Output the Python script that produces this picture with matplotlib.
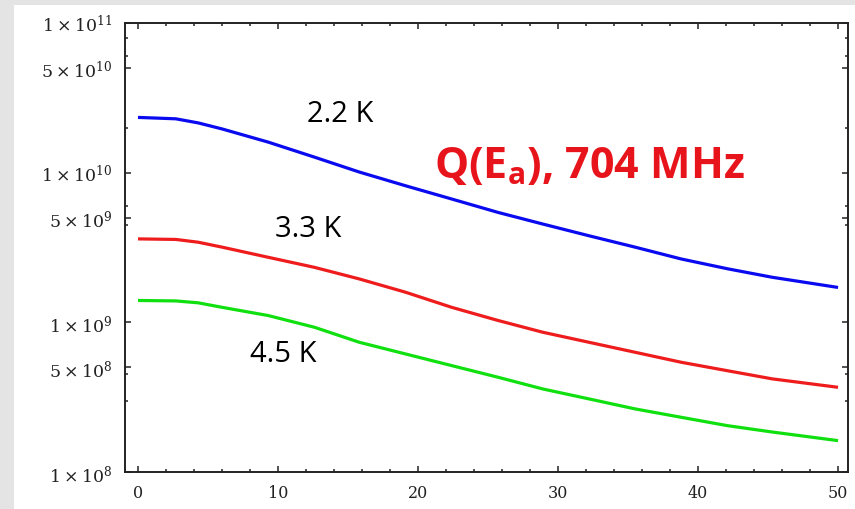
import numpy as np
import matplotlib
matplotlib.use("Agg")
import matplotlib.pyplot as plt
from matplotlib.patches import Rectangle
from matplotlib.ticker import FixedLocator, NullFormatter

# Accelerating field E_a (MV/m) sample points
field = [0, 2.7, 4.3, 6.0, 9.3, 12.6, 15.8, 19.1, 22.4, 25.7, 28.9, 32.2, 35.5, 38.8, 42.1, 45.3, 50]

# Q values in units of 1e9
q_22K = [23.4, 22.9, 21.5, 19.6, 16.0, 12.7, 10.1, 8.18, 6.67, 5.43, 4.54, 3.79, 3.18, 2.65, 2.28, 2.00, 1.71]
q_33K = [3.61, 3.58, 3.43, 3.18, 2.72, 2.33, 1.95, 1.59, 1.26, 1.03, 0.859, 0.736, 0.631, 0.541, 0.475, 0.419, 0.368]
q_45K = [1.40, 1.39, 1.35, 1.26, 1.11, 0.927, 0.736, 0.615, 0.514, 0.430, 0.359, 0.308, 0.264, 0.232, 0.204, 0.185, 0.162]

temps = ["2.2 K", "3.3 K", "4.5 K"]
colors = ["#0a0af0", "#ee1c1c", "#10e010"]

# y tick labels
ytick_vals = [1e8, 5e8, 1e9, 5e9, 1e10, 5e10, 1e11]
ytick_labels = [r"$\mathregular{1\times10^{8}}$", r"$\mathregular{5\times10^{8}}$",
                r"$\mathregular{1\times10^{9}}$", r"$\mathregular{5\times10^{9}}$",
                r"$\mathregular{1\times10^{10}}$", r"$\mathregular{5\times10^{10}}$",
                r"$\mathregular{1\times10^{11}}$"]
yminor_vals = [3e8, 4.5e8, 4.5e9, 6e9, 2e10, 6e10, 8e10]

fig = plt.figure(figsize=(8.55, 5.10), dpi=100)
fig.patch.set_facecolor("#e4e4e4")
# white slide panel behind the plot
fig.add_artist(Rectangle((14 / 855, 0), 1, 1 - 6 / 510, transform=fig.transFigure,
                         facecolor="white", edgecolor="none", zorder=-10))

ax = fig.add_axes([125 / 855, 37 / 510, 723 / 855, 449 / 510])
ax.set_facecolor("white")
ax.set_zorder(1)

for q, c in zip([q_22K, q_33K, q_45K], colors):
    ax.plot(field, np.array(q) * 1e9, color=c, lw=2.3, solid_capstyle="butt")

ax.set_yscale("log")
ax.set_xlim(-0.93, 50.71)
ax.set_ylim(1e8, 1e11)

ax.set_xticks([0, 10, 20, 30, 40, 50])
ax.xaxis.set_minor_locator(FixedLocator(np.arange(0, 51, 2)))
ax.yaxis.set_major_locator(FixedLocator(ytick_vals))
ax.set_yticklabels(ytick_labels)
ax.yaxis.set_minor_locator(FixedLocator(yminor_vals))
ax.yaxis.set_minor_formatter(NullFormatter())

ax.tick_params(which="both", direction="in", top=True, right=True, color="#222222")
ax.tick_params(which="major", length=4.5, width=1.1, pad=9)
ax.tick_params(axis="x", which="major", labelsize=11.5)
ax.tick_params(axis="y", which="major", labelsize=12.5)
ax.tick_params(which="minor", length=2.5, width=1.1)
for lab in ax.get_xticklabels() + ax.get_yticklabels():
    lab.set_fontfamily("DejaVu Serif")
    lab.set_color("#222222")
for s in ax.spines.values():
    s.set_linewidth(1.4)
    s.set_color("#222222")

# temperature labels
label_pos = [(12.06, 2.22e10), (9.76, 3.79e9), (8.02, 5.55e8)]
for t, (x, y) in zip(temps, label_pos):
    ax.text(x, y, t, fontsize=21, family="Open Sans", color="black", ha="left", va="baseline")

ax.text(21.15, 9.3e9, r"Q(E$_\mathregular{a}$), 704 MHz", fontsize=31, family="Open Sans",
        fontweight="bold", color="#e8141c", ha="left", va="baseline")

fig.savefig("out.png", dpi=100, facecolor=fig.get_facecolor())
